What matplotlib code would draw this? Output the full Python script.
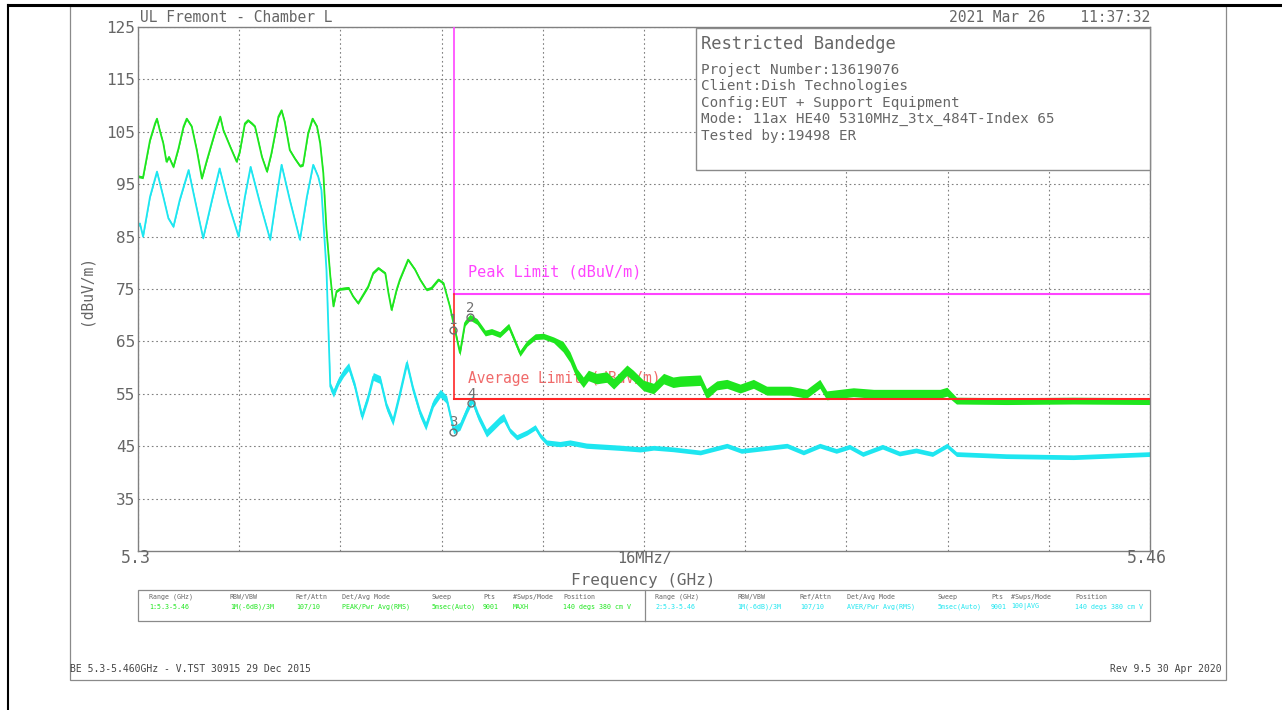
import numpy as np
import matplotlib
matplotlib.use("Agg")
import matplotlib.pyplot as plt
from matplotlib.patches import Rectangle

# ---- trace data (GHz, dBuV/m) ----
peak_freq = [5.3000, 5.3008, 5.3019, 5.3027, 5.3030, 5.3035, 5.3040, 5.3045, 5.3049, 5.3056,
             5.3064, 5.3072, 5.3077, 5.3085, 5.3093, 5.3101, 5.3109, 5.3122, 5.3130, 5.3135,
             5.3146, 5.3156, 5.3161, 5.3169, 5.3174, 5.3180, 5.3185, 5.3196, 5.3204, 5.3211,
             5.3222, 5.3227, 5.3232, 5.3240, 5.3248, 5.3256, 5.3261, 5.3269, 5.3276, 5.3283,
             5.3288, 5.3293, 5.3298, 5.3304, 5.3309, 5.3314, 5.3319, 5.3333, 5.3340, 5.3348,
             5.3356, 5.3364, 5.3372, 5.3380, 5.3391, 5.3396, 5.3401, 5.3409, 5.3414, 5.3427,
             5.3438, 5.3446, 5.3456, 5.3464, 5.3475, 5.3483, 5.3493, 5.3501, 5.3509, 5.3517,
             5.3525, 5.3536, 5.3549, 5.3559, 5.3572, 5.3586, 5.3593, 5.3604, 5.3615, 5.3628,
             5.3641, 5.3657, 5.3672, 5.3683, 5.3694, 5.3704, 5.3712, 5.3725, 5.3741, 5.3752,
             5.3773, 5.3783, 5.3799, 5.3815, 5.3831, 5.3846, 5.3857, 5.3889, 5.3899, 5.3915,
             5.3931, 5.3952, 5.3973, 5.3994, 5.4031, 5.4057, 5.4078, 5.4089, 5.4131, 5.4163,
             5.4215, 5.4268, 5.4279, 5.4294, 5.4373, 5.4479, 5.4600]
peak_db = [96.5, 96.3, 103.4, 106.6, 107.5, 105.0, 102.8, 99.3, 100.2, 98.3,
           101.8, 106.0, 107.5, 106.0, 101.5, 96.1, 99.6, 105.0, 107.9, 105.3,
           102.1, 99.3, 101.2, 106.6, 107.2, 106.6, 106.0, 100.2, 97.4, 100.9,
           107.9, 109.1, 106.9, 101.5, 99.9, 98.5, 98.7, 104.7, 107.5, 106.0,
           102.8, 97.1, 86.3, 77.5, 71.7, 74.6, 75.0, 75.2, 73.6, 72.3,
           73.9, 75.5, 78.1, 79.0, 78.0, 74.2, 71.0, 74.9, 76.8, 80.6,
           78.7, 76.8, 74.9, 75.2, 76.8, 76.1, 71.7, 67.2, 62.8, 68.5,
           69.6, 68.8, 66.6, 66.9, 66.3, 67.9, 65.9, 62.7, 64.6, 65.9,
           66.0, 65.3, 64.0, 62.0, 58.8, 57.2, 58.5, 57.9, 58.2, 56.9,
           59.5, 58.5, 56.6, 56.0, 57.9, 57.2, 57.4, 57.6, 55.0, 56.6,
           56.9, 56.0, 56.9, 55.6, 55.6, 55.0, 56.9, 54.7, 55.3, 55.0,
           55.0, 55.0, 55.4, 53.7, 53.6, 53.7, 53.6]

avg_freq = [5.3000, 5.3003, 5.3008, 5.3019, 5.3030, 5.3040, 5.3048, 5.3056, 5.3066, 5.3080,
            5.3090, 5.3103, 5.3117, 5.3129, 5.3143, 5.3159, 5.3169, 5.3178, 5.3193, 5.3209,
            5.3219, 5.3227, 5.3240, 5.3256, 5.3267, 5.3277, 5.3285, 5.3290, 5.3298, 5.3304,
            5.3309, 5.3317, 5.3325, 5.3333, 5.3343, 5.3354, 5.3364, 5.3372, 5.3383, 5.3393,
            5.3403, 5.3414, 5.3425, 5.3435, 5.3446, 5.3455, 5.3467, 5.3478, 5.3488, 5.3499,
            5.3509, 5.3520, 5.3528, 5.3538, 5.3551, 5.3562, 5.3572, 5.3578, 5.3588, 5.3599,
            5.3615, 5.3628, 5.3636, 5.3646, 5.3667, 5.3683, 5.3709, 5.3762, 5.3794, 5.3815,
            5.3846, 5.3889, 5.3931, 5.3954, 5.4026, 5.4052, 5.4078, 5.4104, 5.4125, 5.4146,
            5.4177, 5.4204, 5.4230, 5.4256, 5.4279, 5.4294, 5.4373, 5.4479, 5.4600]
avg_db = [87.0, 87.5, 85.0, 92.6, 97.4, 92.6, 88.5, 86.9, 92.0, 97.7,
          92.0, 84.7, 92.0, 98.0, 91.3, 85.0, 92.6, 98.3, 91.3, 84.4,
          92.6, 98.7, 92.0, 84.4, 92.6, 98.7, 96.4, 93.9, 78.6, 56.4,
          55.1, 57.4, 59.0, 60.2, 56.4, 50.7, 54.5, 58.3, 57.7, 52.6,
          49.7, 55.1, 60.9, 55.8, 51.3, 48.8, 53.2, 55.1, 53.9, 48.1,
          48.8, 51.9, 53.9, 50.7, 47.5, 48.8, 50.0, 50.5, 48.0, 46.7,
          47.6, 48.6, 47.0, 45.7, 45.4, 45.7, 45.1, 44.7, 44.4, 44.7,
          44.4, 43.8, 45.1, 44.1, 45.1, 43.8, 45.1, 44.1, 44.9, 43.5,
          44.9, 43.6, 44.2, 43.5, 45.1, 43.5, 43.1, 42.9, 43.5]

# half-width of the noise band per frequency segment
peak_noise_edges = [5.300, 5.330, 5.350, 5.367, 5.390, 5.428, 5.460]
peak_noise = [0.25, 0.25, 0.55, 1.0, 0.85, 0.65]
avg_noise_edges = [5.300, 5.330, 5.358, 5.380, 5.460]
avg_noise = [0.25, 0.75, 0.5, 0.45]

band_edge = 5.35
limit_end = 5.46
peak_limit = 74
avg_limit = 54

marker_ids = ["1", "2", "3", "4"]
marker_freq = [5.3498, 5.3525, 5.3498, 5.3527]
marker_db = [67.2, 69.6, 47.8, 53.2]

ytick_vals = [35, 45, 55, 65, 75, 85, 95, 105, 115, 125]

info_title = "Restricted Bandedge"
info_lines = ["Project Number:13619076",
              "Client:Dish Technologies",
              "Config:EUT + Support Equipment",
              "Mode: 11ax HE40 5310MHz_3tx_484T-Index 65",
              "Tested by:19498 ER"]

table_heads = ["Range (GHz)", "RBW/VBW", "Ref/Attn", "Det/Avg Mode", "Sweep",
               "Pts", "#Swps/Mode", "Position"]
table_peak = ["1:5.3-5.46", "1M(-6dB)/3M", "107/10", "PEAK/Pwr Avg(RMS)", "5msec(Auto)",
              "9001", "MAXH", "140 degs 380 cm V"]
table_avg = ["2:5.3-5.46", "1M(-6dB)/3M", "107/10", "AVER/Pwr Avg(RMS)", "5msec(Auto)",
             "9001", "100|AVG", "140 degs 380 cm V"]

FONT = "DejaVu Sans Mono"
GREY = "#666666"
GREEN = "#1ee61e"
CYAN = "#1ee6f0"
MAGENTA = "#ff44ff"
RED = "#ff2626"


def noise_for(freq, edges, widths):
    idx = np.clip(np.searchsorted(edges, freq, side="right") - 1, 0, len(widths) - 1)
    return np.array(widths)[idx]


fig = plt.figure(figsize=(12.82, 7.10), dpi=100)
ax = fig.add_axes([138 / 1282, 1 - 551 / 710, 1012 / 1282, 524 / 710])
ax.set_xlim(5.3, 5.46)
ax.set_ylim(25, 125)

ax.set_xticks([5.3 + 0.016 * k for k in range(11)])
ax.set_xticklabels([])
ax.set_yticks(ytick_vals)
ax.set_yticklabels([str(v) for v in ytick_vals], family=FONT, fontsize=11.5, color=GREY)
ax.tick_params(length=0, pad=2)
ax.grid(True, color="#808080", linestyle=(0, (1.5, 2.5)), lw=0.8)
for s in ax.spines.values():
    s.set_color("#808080")
    s.set_linewidth(1)

# traces drawn as a centre line plus a noise band
for f, d, edges, w, col in [(avg_freq, avg_db, avg_noise_edges, avg_noise, CYAN),
                            (peak_freq, peak_db, peak_noise_edges, peak_noise, GREEN)]:
    f = np.array(f)
    d = np.array(d)
    n = noise_for(f, edges, w)
    ax.fill_between(f, d - n, d + n, color=col, lw=0, zorder=2)
    ax.plot(f, d, color=col, lw=1.3, zorder=2)

# limit lines
ax.plot([band_edge, band_edge], [peak_limit, 125], color=MAGENTA, lw=1.2, zorder=3)
ax.plot([band_edge, limit_end], [peak_limit, peak_limit], color=MAGENTA, lw=1.5, zorder=3)
ax.plot([band_edge, band_edge], [avg_limit, peak_limit], color=RED, lw=1.2, zorder=3)
ax.plot([band_edge, limit_end], [avg_limit, avg_limit], color=RED, lw=1.5, zorder=3)
ax.text(5.3522, 78.2, "Peak Limit (dBuV/m)", family=FONT, fontsize=11, color=MAGENTA,
        va="center", zorder=1)
ax.text(5.3522, 58.0, "Average Limit (dBuV/m)", family=FONT, fontsize=10.5, color="#f06a6a",
        va="center", zorder=1)

# markers
ax.plot(marker_freq, marker_db, "o", ms=5, mfc="none", mec="#707070", mew=1, zorder=4)
for lab, f, d in zip(marker_ids, marker_freq, marker_db):
    ax.text(f, d + 1.8, lab, family=FONT, fontsize=10, color="#707070",
            ha="center", va="center", zorder=4)

# overlay in pixel coordinates for frame, header, info box and tables
ov = fig.add_axes([0, 0, 1, 1])
ov.set_xlim(0, 1282)
ov.set_ylim(710, 0)
ov.axis("off")
ov.patch.set_alpha(0)

ov.plot([8, 1282], [5, 5], color="black", lw=2.2)
ov.plot([8, 8], [5, 710], color="black", lw=1.5)
ov.add_patch(Rectangle((70, 6), 1156, 674, fill=False, ec="#8a8a8a", lw=0.9))

ov.text(140, 18, "UL Fremont - Chamber L", family=FONT, fontsize=10.5, color=GREY, va="center")
ov.text(1150, 18, "2021 Mar 26    11:37:32", family=FONT, fontsize=10.5, color=GREY,
        va="center", ha="right")

# info box
ov.add_patch(Rectangle((696, 28), 454, 142, fc="white", ec="#8a8a8a", lw=1, zorder=5))
ov.text(701, 44, info_title, family=FONT, fontsize=12.3, color=GREY, va="center", zorder=6)
for i, line in enumerate(info_lines):
    ov.text(701, 70 + i * 16.4, line, family=FONT, fontsize=10.3, color=GREY,
            va="center", zorder=6)

# axis labels
ov.text(86, 290, "(dBuV/m)", family=FONT, fontsize=10.5, color=GREY, rotation=90,
        ha="center", va="center")
ov.text(136, 558, "5.3", family=FONT, fontsize=12, color=GREY, ha="center", va="center")
ov.text(645, 558, "16MHz/", family=FONT, fontsize=11, color=GREY, ha="center", va="center")
ov.text(1147, 558, "5.46", family=FONT, fontsize=12, color=GREY, ha="center", va="center")
ov.text(643, 580, "Frequency (GHz)", family=FONT, fontsize=11.5, color=GREY,
        ha="center", va="center")

# settings table
ov.add_patch(Rectangle((138, 590), 1012, 31, fill=False, ec="#8a8a8a", lw=0.9))
ov.plot([645, 645], [590, 621], color="#8a8a8a", lw=0.9)
left_cols = [149, 230, 296, 342, 432, 483, 513, 563]
right_cols = [655, 737, 800, 847, 938, 991, 1011, 1075]
for cols, vals, col in [(left_cols, table_peak, GREEN), (right_cols, table_avg, CYAN)]:
    for x, head, val in zip(cols, table_heads, vals):
        ov.text(x, 597, head, family=FONT, fontsize=4.8, color=GREY, va="center")
        ov.text(x, 607, val, family=FONT, fontsize=4.8, color=col, va="center")

# footer
ov.text(70, 669, "BE 5.3-5.460GHz - V.TST 30915 29 Dec 2015", family=FONT, fontsize=7,
        color="#444444", va="center")
ov.text(1222, 669, "Rev 9.5 30 Apr 2020", family=FONT, fontsize=7, color="#444444",
        va="center", ha="right")

fig.savefig("out.png", dpi=100, facecolor="white")
